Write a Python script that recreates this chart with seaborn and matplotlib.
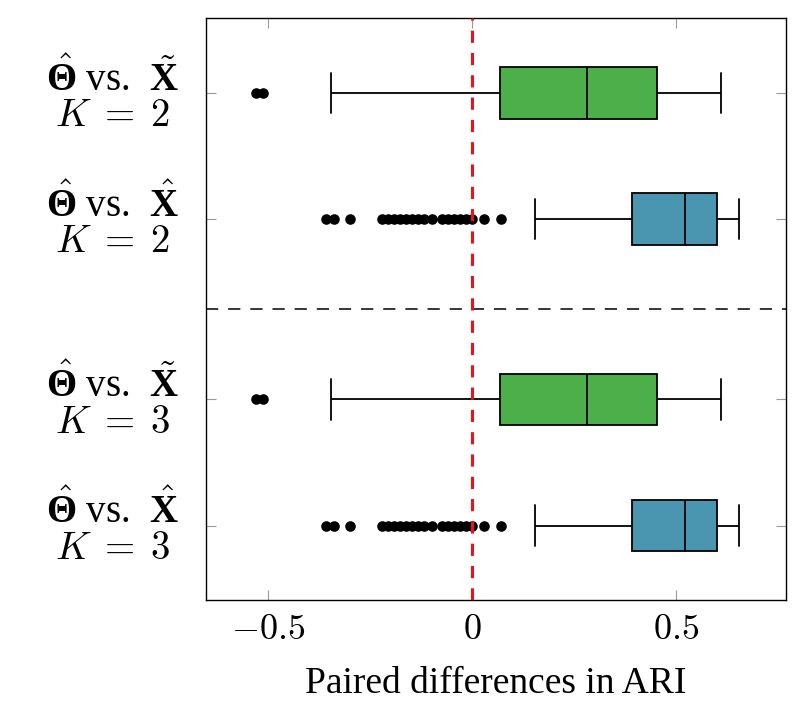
import matplotlib
matplotlib.use("Agg")
import matplotlib.pyplot as plt
import matplotlib.transforms as mtransforms
import seaborn as sns
import pandas as pd
import numpy as np

sns.set_theme(style="white")
plt.rcParams["font.family"] = ["Liberation Serif", "DejaVu Serif"]
plt.rcParams["mathtext.fontset"] = "custom"
plt.rcParams["mathtext.rm"] = "cmr10"
plt.rcParams["mathtext.it"] = "cmmi10"
plt.rcParams["mathtext.bf"] = "Liberation Serif:bold"
plt.rcParams["text.color"] = "black"
plt.rcParams["xtick.labelcolor"] = "black"
plt.rcParams["ytick.labelcolor"] = "black"
plt.rcParams["axes.labelcolor"] = "black"

# row positions (gap between K=2 and K=3 blocks is wider)
rows = [0.0, 1.0, 2.43, 3.43]
row_pair = ["tilde", "hat", "tilde", "hat"]
row_labels = [
    r"$\hat{\mathbf{\Theta}}$ vs.  $\tilde{\mathbf{X}}$" + "\n" + r"$K\;=\;2$",
    r"$\hat{\mathbf{\Theta}}$ vs.  $\hat{\mathbf{X}}$" + "\n" + r"$K\;=\;2$",
    r"$\hat{\mathbf{\Theta}}$ vs.  $\tilde{\mathbf{X}}$" + "\n" + r"$K\;=\;3$",
    r"$\hat{\mathbf{\Theta}}$ vs.  $\hat{\mathbf{X}}$" + "\n" + r"$K\;=\;3$",
]

# five-number summaries: low whisker, Q1, median, Q3, high whisker
tilde_box = [-0.346, 0.069, 0.282, 0.453, 0.610]
hat_box = [0.154, 0.392, 0.522, 0.600, 0.654]

# outliers
tilde_out = [-0.529, -0.513]
hat_out = [-0.358, -0.338, -0.299, -0.221, -0.206, -0.191, -0.176, -0.162,
           -0.147, -0.132, -0.118, -0.098, -0.074, -0.059, -0.044, -0.029,
           -0.015, 0.0, 0.029, 0.072]

xticks = [-0.5, 0, 0.5]
xtick_labels = [r"$-0.5$", r"$0$", r"$0.5$"]

palette = {"tilde": "#4daf4a", "hat": "#4a96b0"}

box_rows, out_rows = [], []
for pos, pr in zip(rows, row_pair):
    stats = tilde_box if pr == "tilde" else hat_box
    outs = tilde_out if pr == "tilde" else hat_out
    for v in stats:
        box_rows.append({"diff": v, "pos": pos, "pair": pr})
    for v in outs:
        out_rows.append({"diff": v, "pos": pos})
box_df = pd.DataFrame(box_rows)
out_df = pd.DataFrame(out_rows)

fig = plt.figure(figsize=(8.07, 7.28), dpi=100)
ax = fig.add_axes([0.2553, 0.1758, 0.7187, 0.7995])

sns.boxplot(data=box_df, x="diff", y="pos", hue="pair", palette=palette,
            orient="y", native_scale=True, dodge=False, width=0.41,
            linecolor="black", linewidth=1.3, showfliers=False, whis=1.5,
            saturation=1, legend=False, ax=ax)

# widen the whisker caps (short vertical segments)
for ln in ax.lines:
    xd = np.asarray(ln.get_xdata(), float)
    yd = np.asarray(ln.get_ydata(), float)
    if len(xd) == 2 and xd[0] == xd[1] and abs(yd[1] - yd[0]) < 0.3:
        c = yd.mean()
        ln.set_ydata([c - 0.16, c + 0.16])

sns.scatterplot(data=out_df, x="diff", y="pos", color="black", s=58,
                edgecolor="black", linewidth=0, legend=False, zorder=3, ax=ax)

ax.axvline(0, color="#e8141c", lw=2.2, ls=(0, (4, 3.3)), zorder=4)
ax.axhline((rows[1] + rows[2]) / 2, color="black", lw=1.1, ls=(0, (8, 6.5)))

ax.set_xlim(-0.652, 0.770)
ax.set_ylim(4.02, -0.595)
ax.set_xticks(xticks, xtick_labels)
ax.set_yticks(rows, row_labels)
for t in ax.get_xticklabels():
    t.set_math_fontfamily("cm")
shift = mtransforms.ScaledTranslation(0, 0.035, fig.dpi_scale_trans)
for t in ax.get_yticklabels():
    t.set_multialignment("center")
    t.set_linespacing(0.95)
    t.set_transform(t.get_transform() + shift)
ax.tick_params(axis="both", direction="in", length=7, width=0.8, color="#999999",
               labelsize=26, top=True, right=True, bottom=True, left=True)
ax.tick_params(axis="y", labelsize=28, pad=19)
ax.tick_params(axis="x", pad=10)
for s in ax.spines.values():
    s.set_color("black")
    s.set_linewidth(1.0)

ax.set_ylabel("")
ax.set_xlabel("Paired differences in ARI", fontsize=27, labelpad=14)

fig.savefig("out.png", dpi=100)
